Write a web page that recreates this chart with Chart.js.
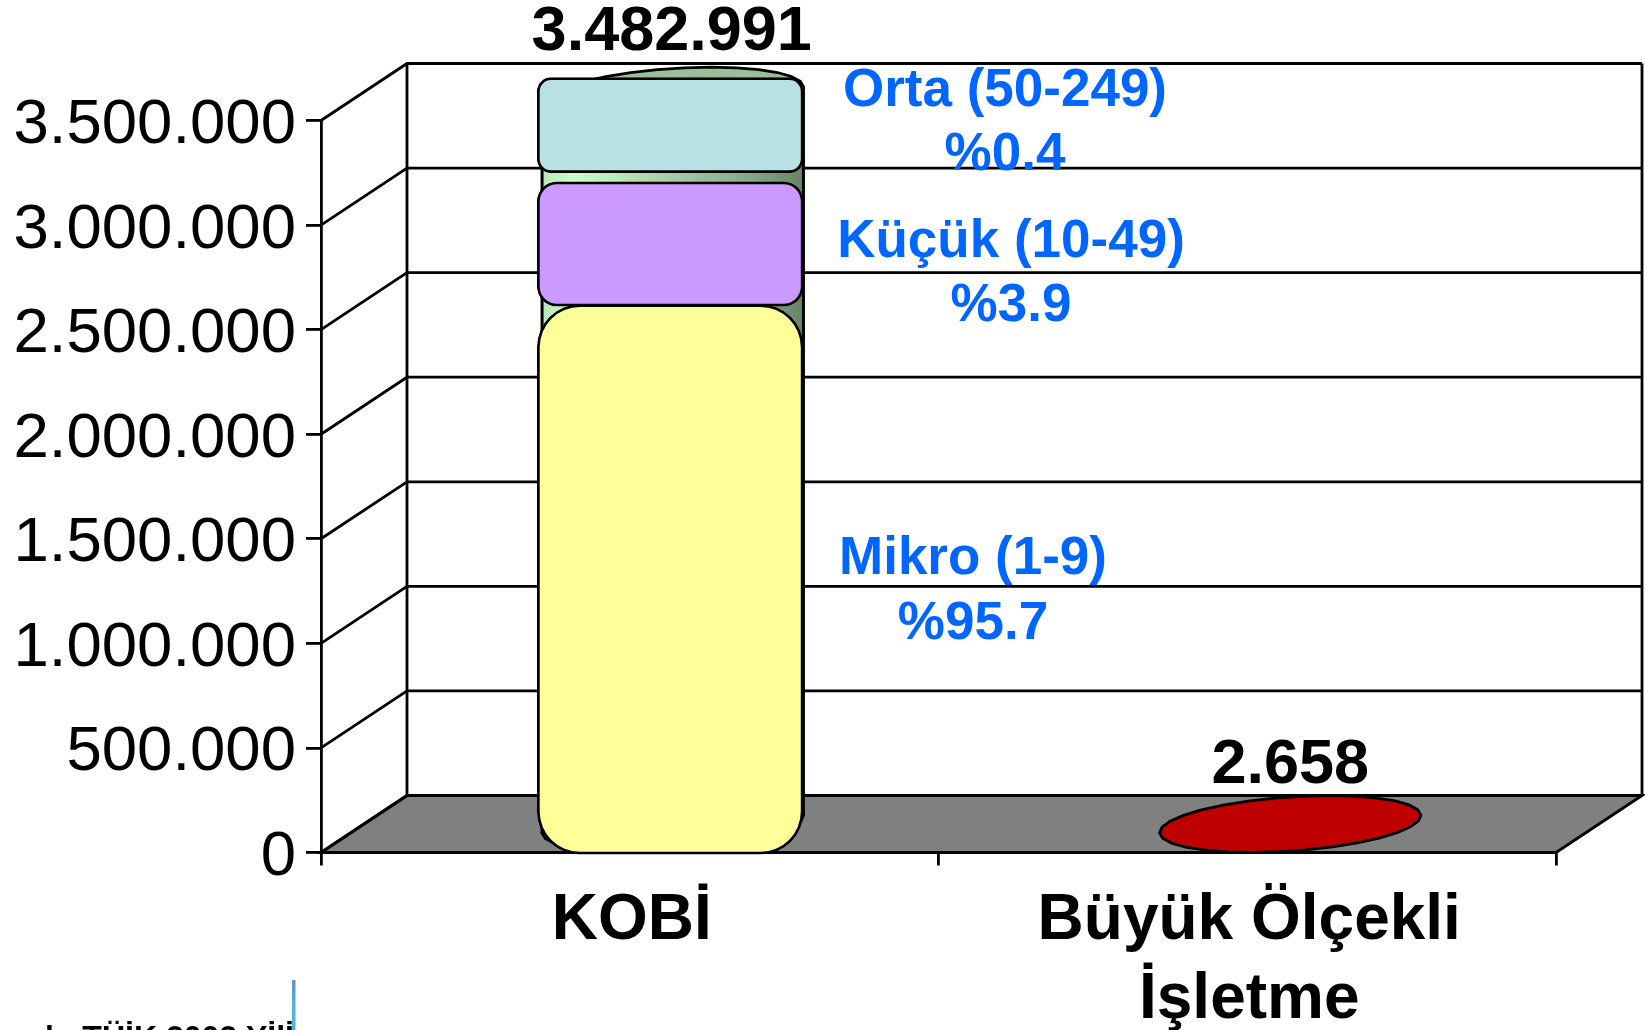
<!DOCTYPE html>
<html><head><meta charset="utf-8">
<style>html,body{margin:0;padding:0;background:#fff}canvas{display:block}</style>
<script src="https://cdn.jsdelivr.net/npm/chart.js@4"></script></head>
<body><canvas id="c" width="1645" height="1030"></canvas>
<script>
const categories = ["KOBİ", ["Büyük Ölçekli", "İşletme"]];
const totals = [3482991, 2658];
const totalLabels = ["3.482.991", "2.658"];
const mikroBox = [[-8000, 2620000], null];
const kucukBox = [[2612000, 3207000], null];
const ortaBox = [[3250000, 3705000], null];
const yTickLabels = ["0","500.000","1.000.000","1.500.000","2.000.000","2.500.000","3.000.000","3.500.000"];
const notes = [["Orta (50-249)","%0.4"],["Küçük (10-49)","%3.9"],["Mikro (1-9)","%95.7"]];
const noteSpots = [[1005,91,155],[1011,242,306],[973,559,624]];

const DX = 86, DY = -57, RX = 131, RY = 27, TILT = -3.9 * Math.PI / 180;
const FONT = '"Liberation Sans", Arial, sans-serif';
const LW = 2.8;
const cylFill = (ctx, l, r) => {
  const g = ctx.createLinearGradient(l, 0, r, 0);
  g.addColorStop(0, '#b8e8b8'); g.addColorStop(0.12, '#ccffcc'); g.addColorStop(0.5, '#a4cca4');
  g.addColorStop(0.8, '#86a886'); g.addColorStop(1, '#668466');
  return g;
};
function blob(ctx, cx, cy) {
  ctx.beginPath();
  for (let i = 0; i < 30; i++) {
    const t = i / 30 * 2 * Math.PI, ex = RX * Math.cos(t), ey = RY * Math.sin(t);
    ctx.lineTo(cx + ex * Math.cos(TILT) - ey * Math.sin(TILT), cy + ex * Math.sin(TILT) + ey * Math.cos(TILT));
  }
  ctx.closePath();
}
const wall = {
  id: 'wall',
  beforeDatasetsDraw(chart) {
    const {ctx, scales: {x, y}} = chart, b = y.getPixelForValue(0), t = y.getPixelForValue(3500000);
    const l = x.left, r = x.right;
    ctx.save();
    ctx.strokeStyle = '#000'; ctx.lineWidth = LW;
    ctx.beginPath();
    ctx.moveTo(l, b); ctx.lineTo(l + DX, b + DY); ctx.lineTo(r + DX, b + DY); ctx.lineTo(r, b); ctx.closePath();
    ctx.fillStyle = '#808080'; ctx.fill(); ctx.stroke();
    y.ticks.forEach(tk => {
      const p = y.getPixelForValue(tk.value);
      ctx.beginPath(); ctx.moveTo(l, p); ctx.lineTo(l + DX, p + DY); ctx.lineTo(r + DX, p + DY); ctx.stroke();
    });
    ctx.beginPath();
    ctx.moveTo(l + DX, t + DY); ctx.lineTo(l + DX, b + DY);
    ctx.moveTo(r + DX, t + DY); ctx.lineTo(r + DX, b + DY);
    ctx.stroke();
    const meta = chart.getDatasetMeta(0);
    meta.data.forEach((el, i) => {
      const cx = el.x + DX / 2, top = el.y + DY / 2, base = y.getPixelForValue(0) + DY / 2;
      const sx = RX * Math.cos(TILT), sy = RX * Math.sin(TILT);
      ctx.lineWidth = 3;
      if (i === 0) {
        const fill = cylFill(ctx, cx - RX, cx + RX);
        blob(ctx, cx, base); ctx.fillStyle = fill; ctx.fill(); ctx.stroke();
        ctx.beginPath();
        ctx.moveTo(cx - sx, top - sy); ctx.lineTo(cx + sx, top + sy);
        ctx.lineTo(cx + sx, base + sy); ctx.lineTo(cx - sx, base - sy); ctx.closePath();
        ctx.fillStyle = fill; ctx.fill();
        ctx.beginPath();
        ctx.moveTo(cx - sx, top - sy); ctx.lineTo(cx - sx, base - sy);
        ctx.moveTo(cx + sx, top + sy); ctx.lineTo(cx + sx, base + sy); ctx.stroke();
        blob(ctx, cx, top); ctx.fillStyle = '#99bf99'; ctx.fill(); ctx.lineWidth = LW; ctx.stroke();
      } else {
        blob(ctx, cx, base); ctx.fillStyle = '#bf0000'; ctx.lineWidth = LW; ctx.fill(); ctx.stroke();
      }
    });
    ctx.restore();
  },
  afterDatasetsUpdate(chart) {
    [1, 2, 3].forEach(d => chart.getDatasetMeta(d).data.forEach(el => { el.x += DX / 2 - 2.5; }));
  },
  afterDatasetsDraw(chart) {
    const {ctx} = chart;
    ctx.save();
    ctx.textAlign = 'center'; ctx.textBaseline = 'middle';
    ctx.font = 'bold 63px ' + FONT; ctx.fillStyle = '#000';
    chart.getDatasetMeta(0).data.forEach((el, i) => {
      ctx.fillText(totalLabels[i], el.x + DX / 2 - (i ? 0 : 1), el.y + DY - (i ? 29 : 34));
    });
    ctx.font = 'bold 53px ' + FONT; ctx.fillStyle = '#0066ff';
    notes.forEach((n, i) => {
      ctx.fillText(n[0], noteSpots[i][0], noteSpots[i][1]);
      ctx.fillText(n[1], noteSpots[i][0], noteSpots[i][2]);
    });
    ctx.textAlign = 'left'; ctx.textBaseline = 'alphabetic';
    ctx.font = 'bold 32px ' + FONT; ctx.fillStyle = '#000';
    ctx.fillText('k: TÜİK 2002 Yİlİ', 45, 1048);
    const g = ctx.createLinearGradient(0, 980, 0, 1010);
    g.addColorStop(0, '#5f94bb'); g.addColorStop(1, '#4db4ea');
    ctx.fillStyle = g; ctx.fillRect(292, 980, 3.5, 50);
    ctx.restore();
  }
};
const box = (label, data, color, radius) => ({
  label, data, backgroundColor: color, borderColor: '#000', borderWidth: LW,
  borderRadius: radius, borderSkipped: false, barThickness: 266, grouped: false, clip: false, order: 1
});
new Chart(document.getElementById('c'), {
  type: 'bar',
  data: {
    labels: categories,
    datasets: [
      {label: 'Toplam', data: totals, backgroundColor: 'rgba(0,0,0,0)', borderWidth: 0, grouped: false, barThickness: 262, order: 2},
      box('Mikro', mikroBox, '#ffff99', 43),
      box('Küçük', kucukBox, '#cc99ff', 20),
      box('Orta', ortaBox, '#b9e0e3', 14)
    ]
  },
  options: {
    responsive: false, animation: false, events: [],
    layout: {padding: {left: 0, right: 89, top: 120.5, bottom: 0}},
    plugins: {legend: {display: false}, tooltip: {enabled: false}, title: {display: false}},
    scales: {
      x: {
        type: 'category', offset: true,
        border: {display: true, color: '#000', width: LW},
        grid: {display: true, drawOnChartArea: false, drawTicks: true, tickLength: 13, color: '#000', lineWidth: LW, offset: true},
        ticks: {color: '#000', maxRotation: 0, minRotation: 0, autoSkip: false, padding: 16, labelOffset: 2,
          font: {family: FONT, size: 64, weight: 'bold', lineHeight: 1.234}},
        afterFit(s) { s.height = 177.5; }
      },
      y: {
        min: 0, max: 3500000,
        border: {display: true, color: '#000', width: LW},
        grid: {display: true, drawOnChartArea: false, drawTicks: true, tickLength: 15, color: '#000', lineWidth: LW},
        ticks: {color: '#000', stepSize: 500000, padding: 10, labelOffset: 5,
          font: {family: FONT, size: 63.5},
          callback: (v) => yTickLabels[Math.round(v / 500000)]},
        afterFit(s) { s.width = 321; }
      }
    }
  },
  plugins: [wall]
});
</script></body></html>
